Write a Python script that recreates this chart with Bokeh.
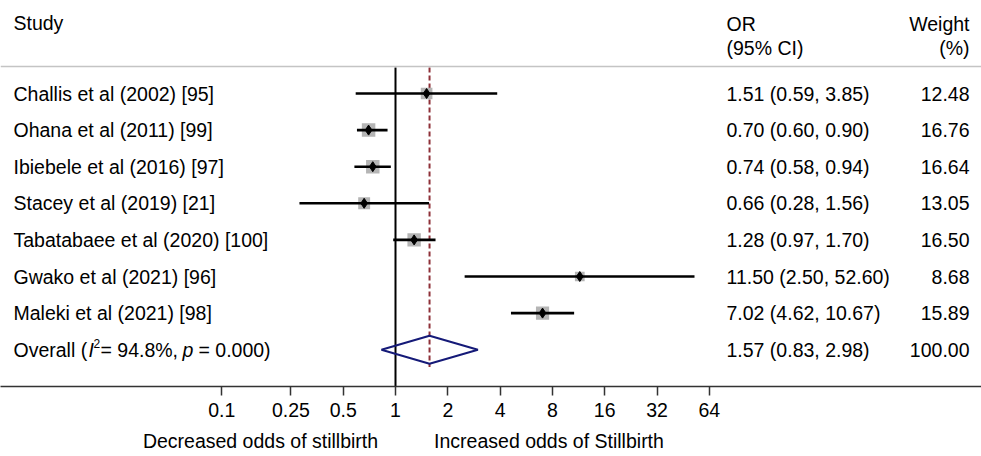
import math
from bokeh.plotting import figure
from bokeh.models import Range1d, Label, Span, FixedTicker, ColumnDataSource, LogAxis
from bokeh.embed import file_html
from bokeh.resources import INLINE

# ---------------- data ----------------
studies = ["Challis et al (2002) [95]", "Ohana et al (2011) [99]", "Ibiebele et al (2016) [97]",
           "Stacey et al (2019) [21]", "Tabatabaee et al (2020) [100]", "Gwako et al (2021) [96]",
           "Maleki et al (2021) [98]"]
odds = [1.51, 0.70, 0.74, 0.66, 1.28, 11.50, 7.02]
ci_low = [0.59, 0.60, 0.58, 0.28, 0.97, 2.50, 4.62]
ci_high = [3.85, 0.90, 0.94, 1.56, 1.70, 52.60, 10.67]
weights = [12.48, 16.76, 16.64, 13.05, 16.50, 8.68, 15.89]
overall_or = 1.57
overall_low = 0.83
overall_high = 2.98
overall_weight = 100.00
i_squared = 94.8
p_value = 0.000
tick_values = [0.1, 0.25, 0.5, 1, 2, 4, 8, 16, 32, 64]
tick_labels = ["0.1", "0.25", "0.5", "1", "2", "4", "8", "16", "32", "64"]
favours_labels = ["Decreased odds of stillbirth", "Increased odds of Stillbirth"]

# ---------------- layout ----------------
W, H = 981, 456
AXIS_Y = 386
BOTTOM = H - AXIS_Y
X1 = 395.0      # canvas px of OR = 1
PPD = 52.3      # px per doubling
x_start = 2 ** ((0 - X1) / PPD)
x_end = 2 ** ((W - X1) / PPD)
ROW = 36.6
R0 = 93.0
y_top = -R0 / ROW
y_bot = (AXIS_Y - R0) / ROW


def row_y(px):
    return (px - R0) / ROW


def px_to_x(px):
    return round(2 ** ((px - X1) / PPD), 4)


FONT = "Liberation Sans"
FS = "19.5px"

p = figure(width=W, height=H, output_backend="svg", toolbar_location=None,
           x_axis_type="log", x_range=Range1d(x_start, x_end),
           y_range=Range1d(y_bot, y_top), y_axis_location=None,
           min_border_left=0, min_border_right=0, min_border_top=0,
           min_border_bottom=BOTTOM)
p.outline_line_color = None
p.xgrid.visible = False
p.ygrid.visible = False
p.background_fill_color = "white"
p.border_fill_color = "white"

ax = p.xaxis[0]
ax.ticker = FixedTicker(ticks=tick_values)
ax.major_label_overrides = {v: l for v, l in zip(tick_values, tick_labels)}
ax.minor_tick_line_color = None
ax.major_tick_in = 0
ax.major_tick_out = 9
ax.major_tick_line_width = 1.5
ax.major_tick_line_color = "#333333"
ax.axis_line_color = "#333333"
ax.axis_line_width = 1.5
ax.major_label_text_font = FONT
ax.major_label_text_font_size = FS
ax.major_label_text_color = "black"
ax.major_label_standoff = 7

# second axis below carrying the "favours" captions
fav_pos = [px_to_x(260), px_to_x(548.5)]
fav_ax = LogAxis(ticker=FixedTicker(ticks=fav_pos),
                 major_label_overrides={v: l for v, l in zip(fav_pos, favours_labels)})
fav_ax.axis_line_color = None
fav_ax.major_tick_line_color = None
fav_ax.minor_tick_line_color = None
fav_ax.major_tick_in = 0
fav_ax.major_tick_out = 0
fav_ax.major_label_standoff = 10
fav_ax.major_label_text_font = FONT
fav_ax.major_label_text_font_size = FS
fav_ax.major_label_text_color = "black"
p.add_layout(fav_ax, "below")

rows = list(range(len(studies)))
overall_row = len(studies)

# header separator
p.add_layout(Span(location=row_y(66), dimension="width", line_color="#c4c4c4", line_width=1.5))

# null line at OR = 1
p.segment(x0=[1], y0=[row_y(67)], x1=[1], y1=[y_bot], line_color="black", line_width=2)
# overall dashed line
p.segment(x0=[overall_or], y0=[row_y(67)], x1=[overall_or], y1=[overall_row + 0.47],
          line_color="#8e3038", line_width=2, line_dash="5 3")

src = ColumnDataSource(dict(y=rows, odds=odds, lo=ci_low, hi=ci_high,
                            size=[3.3 * math.sqrt(w) for w in weights]))
p.scatter(x="odds", y="y", size="size", marker="square", source=src,
          fill_color="#b5b5b5", line_color=None)
p.segment(x0="lo", y0="y", x1="hi", y1="y", source=src, line_color="black", line_width=2.6)
p.scatter(x="odds", y="y", size=10, marker="diamond", source=src,
          fill_color="black", line_color="black")

# overall diamond
h = 14 / ROW
p.patch(x=[overall_low, overall_or, overall_high, overall_or],
        y=[overall_row, overall_row - h, overall_row, overall_row + h],
        fill_color=None, line_color="#151a78", line_width=2)


def lab(text, sx, y, align="left", italic=False, size=FS, y_offset=0):
    p.add_layout(Label(x=sx, y=y, x_units="screen", y_units="data", text=text,
                       text_align=align, text_baseline="middle", text_font=FONT,
                       text_font_size=size, text_color="black",
                       text_font_style="italic" if italic else "normal",
                       y_offset=y_offset))


# headers
lab("Study", 13, row_y(22))
lab("OR", 726, row_y(23))
lab("(95% CI)", 726, row_y(47.5))
lab("Weight", 969, row_y(23), align="right")
lab("(%)", 969, row_y(47.5), align="right")

for i, s in enumerate(studies):
    lab(s, 13, rows[i])
    lab(f"{odds[i]:.2f} ({ci_low[i]:.2f}, {ci_high[i]:.2f})", 726, rows[i])
    lab(f"{weights[i]:.2f}", 969, rows[i], align="right")

# overall row
lab("Overall (", 13, overall_row)
lab("I", 88, overall_row, italic=True)
lab("2", 93, overall_row, size="12px", y_offset=6)
lab(f"= {i_squared:.1f}%,", 100, overall_row)
lab("p", 182, overall_row, italic=True)
lab(f"= {p_value:.3f})", 198, overall_row)
lab(f"{overall_or:.2f} ({overall_low:.2f}, {overall_high:.2f})", 726, overall_row)
lab(f"{overall_weight:.2f}", 969, overall_row, align="right")

open("out.html", "w").write(file_html(p, INLINE))
